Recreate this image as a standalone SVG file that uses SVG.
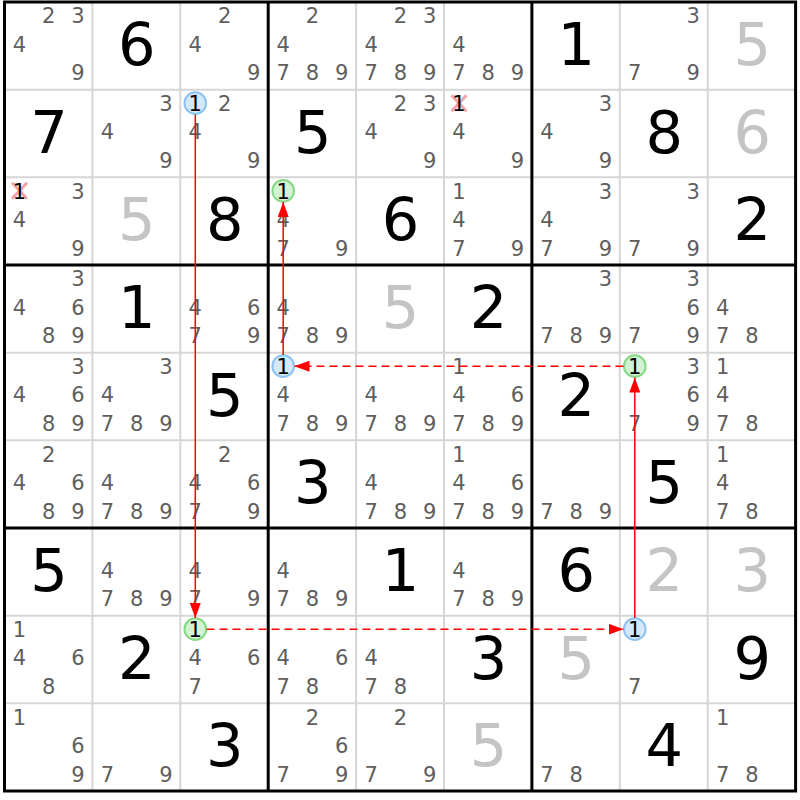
<svg xmlns="http://www.w3.org/2000/svg" width="800" height="800" viewBox="0 0 800 800">
<defs>
<style>
text{font-family:"DejaVu Sans","Liberation Sans",sans-serif;text-anchor:middle}
.c{font-size:21px;fill:#5e5e5e}
.k{font-size:21px;fill:#000}
.g{font-size:59px;fill:#000}
.s{font-size:59px;fill:#c4c4c4}
.thin{stroke:#d6d6d6;stroke-width:2}
.thick{stroke:#000;stroke-width:3}
.blue{fill:#d5e8fa;stroke:#8fc3f3;stroke-width:2}
.green{fill:#d3f2d3;stroke:#86d986;stroke-width:2}
.x{stroke:#f4a2a8;stroke-width:3}
.link{stroke:#ff0000;stroke-width:1.5;fill:none}
.dash{stroke-dasharray:8 5}
</style>
<marker id="ah" markerUnits="userSpaceOnUse" markerWidth="15" markerHeight="11" refX="15" refY="5.5" orient="auto">
<path d="M0,0 L15,5.5 L0,11 z" fill="#ff0000"/>
</marker>
</defs>
<rect x="0" y="0" width="800" height="800" fill="#fff"/>
<g id="grid">
<path class="thin" d="M92.4,2V791M180.3,2V791M356.1,2V791M444,2V791M619.8,2V791M707.7,2V791M4.5,89.67H795.6M4.5,177.33H795.6M4.5,352.67H795.6M4.5,440.33H795.6M4.5,615.67H795.6M4.5,703.33H795.6"/>
<path class="thick" d="M268.2,2V791M531.9,2V791M4.5,265H795.6M4.5,528H795.6"/>
<rect class="thick" x="4.5" y="2" width="791.1" height="789" fill="none"/>
</g>
<!-- Row 0 -->
<g id="r0c0" transform="translate(4.5,2)"><text class="c" x="44.3" y="21.2">2</text><text class="c" x="73.5" y="21.2">3</text><text class="c" x="15" y="49.7">4</text><text class="c" x="73.5" y="78.2">9</text></g>
<g id="r0c1" transform="translate(92.4,2)"><text class="g" x="44.5" y="63">6</text></g>
<g id="r0c2" transform="translate(180.3,2)"><text class="c" x="44.3" y="21.2">2</text><text class="c" x="15" y="49.7">4</text><text class="c" x="73.5" y="78.2">9</text></g>
<g id="r0c3" transform="translate(268.2,2)"><text class="c" x="44.3" y="21.2">2</text><text class="c" x="15" y="49.7">4</text><text class="c" x="15" y="78.2">7</text><text class="c" x="44.3" y="78.2">8</text><text class="c" x="73.5" y="78.2">9</text></g>
<g id="r0c4" transform="translate(356.1,2)"><text class="c" x="44.3" y="21.2">2</text><text class="c" x="73.5" y="21.2">3</text><text class="c" x="15" y="49.7">4</text><text class="c" x="15" y="78.2">7</text><text class="c" x="44.3" y="78.2">8</text><text class="c" x="73.5" y="78.2">9</text></g>
<g id="r0c5" transform="translate(444,2)"><text class="c" x="15" y="49.7">4</text><text class="c" x="15" y="78.2">7</text><text class="c" x="44.3" y="78.2">8</text><text class="c" x="73.5" y="78.2">9</text></g>
<g id="r0c6" transform="translate(531.9,2)"><text class="g" x="44.5" y="63">1</text></g>
<g id="r0c7" transform="translate(619.8,2)"><text class="c" x="73.5" y="21.2">3</text><text class="c" x="15" y="78.2">7</text><text class="c" x="73.5" y="78.2">9</text></g>
<g id="r0c8" transform="translate(707.7,2)"><text class="s" x="44.5" y="63">5</text></g>
<!-- Row 1 -->
<g id="r1c0" transform="translate(4.5,89.67)"><text class="g" x="44.5" y="63">7</text></g>
<g id="r1c1" transform="translate(92.4,89.67)"><text class="c" x="73.5" y="21.2">3</text><text class="c" x="15" y="49.7">4</text><text class="c" x="73.5" y="78.2">9</text></g>
<g id="r1c2" transform="translate(180.3,89.67)"><circle class="blue" cx="15" cy="13.5" r="10.8"/><text class="k" x="15" y="21.2">1</text><text class="c" x="44.3" y="21.2">2</text><text class="c" x="15" y="49.7">4</text><text class="c" x="73.5" y="78.2">9</text></g>
<g id="r1c3" transform="translate(268.2,89.67)"><text class="g" x="44.5" y="63">5</text></g>
<g id="r1c4" transform="translate(356.1,89.67)"><text class="c" x="44.3" y="21.2">2</text><text class="c" x="73.5" y="21.2">3</text><text class="c" x="15" y="49.7">4</text><text class="c" x="73.5" y="78.2">9</text></g>
<g id="r1c5" transform="translate(444,89.67)"><path class="x" d="M7.5,5.5L22.5,21.5M22.5,5.5L7.5,21.5"/><text class="k" x="15" y="21.2">1</text><text class="c" x="15" y="49.7">4</text><text class="c" x="73.5" y="78.2">9</text></g>
<g id="r1c6" transform="translate(531.9,89.67)"><text class="c" x="73.5" y="21.2">3</text><text class="c" x="15" y="49.7">4</text><text class="c" x="73.5" y="78.2">9</text></g>
<g id="r1c7" transform="translate(619.8,89.67)"><text class="g" x="44.5" y="63">8</text></g>
<g id="r1c8" transform="translate(707.7,89.67)"><text class="s" x="44.5" y="63">6</text></g>
<!-- Row 2 -->
<g id="r2c0" transform="translate(4.5,177.33)"><path class="x" d="M7.5,5.5L22.5,21.5M22.5,5.5L7.5,21.5"/><text class="k" x="15" y="21.2">1</text><text class="c" x="73.5" y="21.2">3</text><text class="c" x="15" y="49.7">4</text><text class="c" x="73.5" y="78.2">9</text></g>
<g id="r2c1" transform="translate(92.4,177.33)"><text class="s" x="44.5" y="63">5</text></g>
<g id="r2c2" transform="translate(180.3,177.33)"><text class="g" x="44.5" y="63">8</text></g>
<g id="r2c3" transform="translate(268.2,177.33)"><circle class="green" cx="15" cy="13.5" r="10.8"/><text class="k" x="15" y="21.2">1</text><text class="c" x="15" y="49.7">4</text><text class="c" x="15" y="78.2">7</text><text class="c" x="73.5" y="78.2">9</text></g>
<g id="r2c4" transform="translate(356.1,177.33)"><text class="g" x="44.5" y="63">6</text></g>
<g id="r2c5" transform="translate(444,177.33)"><text class="c" x="15" y="21.2">1</text><text class="c" x="15" y="49.7">4</text><text class="c" x="15" y="78.2">7</text><text class="c" x="73.5" y="78.2">9</text></g>
<g id="r2c6" transform="translate(531.9,177.33)"><text class="c" x="73.5" y="21.2">3</text><text class="c" x="15" y="49.7">4</text><text class="c" x="15" y="78.2">7</text><text class="c" x="73.5" y="78.2">9</text></g>
<g id="r2c7" transform="translate(619.8,177.33)"><text class="c" x="73.5" y="21.2">3</text><text class="c" x="15" y="78.2">7</text><text class="c" x="73.5" y="78.2">9</text></g>
<g id="r2c8" transform="translate(707.7,177.33)"><text class="g" x="44.5" y="63">2</text></g>
<!-- Row 3 -->
<g id="r3c0" transform="translate(4.5,265)"><text class="c" x="73.5" y="21.2">3</text><text class="c" x="15" y="49.7">4</text><text class="c" x="73.5" y="49.7">6</text><text class="c" x="44.3" y="78.2">8</text><text class="c" x="73.5" y="78.2">9</text></g>
<g id="r3c1" transform="translate(92.4,265)"><text class="g" x="44.5" y="63">1</text></g>
<g id="r3c2" transform="translate(180.3,265)"><text class="c" x="15" y="49.7">4</text><text class="c" x="73.5" y="49.7">6</text><text class="c" x="15" y="78.2">7</text><text class="c" x="73.5" y="78.2">9</text></g>
<g id="r3c3" transform="translate(268.2,265)"><text class="c" x="15" y="49.7">4</text><text class="c" x="15" y="78.2">7</text><text class="c" x="44.3" y="78.2">8</text><text class="c" x="73.5" y="78.2">9</text></g>
<g id="r3c4" transform="translate(356.1,265)"><text class="s" x="44.5" y="63">5</text></g>
<g id="r3c5" transform="translate(444,265)"><text class="g" x="44.5" y="63">2</text></g>
<g id="r3c6" transform="translate(531.9,265)"><text class="c" x="73.5" y="21.2">3</text><text class="c" x="15" y="78.2">7</text><text class="c" x="44.3" y="78.2">8</text><text class="c" x="73.5" y="78.2">9</text></g>
<g id="r3c7" transform="translate(619.8,265)"><text class="c" x="73.5" y="21.2">3</text><text class="c" x="73.5" y="49.7">6</text><text class="c" x="15" y="78.2">7</text><text class="c" x="73.5" y="78.2">9</text></g>
<g id="r3c8" transform="translate(707.7,265)"><text class="c" x="15" y="49.7">4</text><text class="c" x="15" y="78.2">7</text><text class="c" x="44.3" y="78.2">8</text></g>
<!-- Row 4 -->
<g id="r4c0" transform="translate(4.5,352.67)"><text class="c" x="73.5" y="21.2">3</text><text class="c" x="15" y="49.7">4</text><text class="c" x="73.5" y="49.7">6</text><text class="c" x="44.3" y="78.2">8</text><text class="c" x="73.5" y="78.2">9</text></g>
<g id="r4c1" transform="translate(92.4,352.67)"><text class="c" x="73.5" y="21.2">3</text><text class="c" x="15" y="49.7">4</text><text class="c" x="15" y="78.2">7</text><text class="c" x="44.3" y="78.2">8</text><text class="c" x="73.5" y="78.2">9</text></g>
<g id="r4c2" transform="translate(180.3,352.67)"><text class="g" x="44.5" y="63">5</text></g>
<g id="r4c3" transform="translate(268.2,352.67)"><circle class="blue" cx="15" cy="13.5" r="10.8"/><text class="k" x="15" y="21.2">1</text><text class="c" x="15" y="49.7">4</text><text class="c" x="15" y="78.2">7</text><text class="c" x="44.3" y="78.2">8</text><text class="c" x="73.5" y="78.2">9</text></g>
<g id="r4c4" transform="translate(356.1,352.67)"><text class="c" x="15" y="49.7">4</text><text class="c" x="15" y="78.2">7</text><text class="c" x="44.3" y="78.2">8</text><text class="c" x="73.5" y="78.2">9</text></g>
<g id="r4c5" transform="translate(444,352.67)"><text class="c" x="15" y="21.2">1</text><text class="c" x="15" y="49.7">4</text><text class="c" x="73.5" y="49.7">6</text><text class="c" x="15" y="78.2">7</text><text class="c" x="44.3" y="78.2">8</text><text class="c" x="73.5" y="78.2">9</text></g>
<g id="r4c6" transform="translate(531.9,352.67)"><text class="g" x="44.5" y="63">2</text></g>
<g id="r4c7" transform="translate(619.8,352.67)"><circle class="green" cx="15" cy="13.5" r="10.8"/><text class="k" x="15" y="21.2">1</text><text class="c" x="73.5" y="21.2">3</text><text class="c" x="73.5" y="49.7">6</text><text class="c" x="15" y="78.2">7</text><text class="c" x="73.5" y="78.2">9</text></g>
<g id="r4c8" transform="translate(707.7,352.67)"><text class="c" x="15" y="21.2">1</text><text class="c" x="15" y="49.7">4</text><text class="c" x="15" y="78.2">7</text><text class="c" x="44.3" y="78.2">8</text></g>
<!-- Row 5 -->
<g id="r5c0" transform="translate(4.5,440.33)"><text class="c" x="44.3" y="21.2">2</text><text class="c" x="15" y="49.7">4</text><text class="c" x="73.5" y="49.7">6</text><text class="c" x="44.3" y="78.2">8</text><text class="c" x="73.5" y="78.2">9</text></g>
<g id="r5c1" transform="translate(92.4,440.33)"><text class="c" x="15" y="49.7">4</text><text class="c" x="15" y="78.2">7</text><text class="c" x="44.3" y="78.2">8</text><text class="c" x="73.5" y="78.2">9</text></g>
<g id="r5c2" transform="translate(180.3,440.33)"><text class="c" x="44.3" y="21.2">2</text><text class="c" x="15" y="49.7">4</text><text class="c" x="73.5" y="49.7">6</text><text class="c" x="15" y="78.2">7</text><text class="c" x="73.5" y="78.2">9</text></g>
<g id="r5c3" transform="translate(268.2,440.33)"><text class="g" x="44.5" y="63">3</text></g>
<g id="r5c4" transform="translate(356.1,440.33)"><text class="c" x="15" y="49.7">4</text><text class="c" x="15" y="78.2">7</text><text class="c" x="44.3" y="78.2">8</text><text class="c" x="73.5" y="78.2">9</text></g>
<g id="r5c5" transform="translate(444,440.33)"><text class="c" x="15" y="21.2">1</text><text class="c" x="15" y="49.7">4</text><text class="c" x="73.5" y="49.7">6</text><text class="c" x="15" y="78.2">7</text><text class="c" x="44.3" y="78.2">8</text><text class="c" x="73.5" y="78.2">9</text></g>
<g id="r5c6" transform="translate(531.9,440.33)"><text class="c" x="15" y="78.2">7</text><text class="c" x="44.3" y="78.2">8</text><text class="c" x="73.5" y="78.2">9</text></g>
<g id="r5c7" transform="translate(619.8,440.33)"><text class="g" x="44.5" y="63">5</text></g>
<g id="r5c8" transform="translate(707.7,440.33)"><text class="c" x="15" y="21.2">1</text><text class="c" x="15" y="49.7">4</text><text class="c" x="15" y="78.2">7</text><text class="c" x="44.3" y="78.2">8</text></g>
<!-- Row 6 -->
<g id="r6c0" transform="translate(4.5,528)"><text class="g" x="44.5" y="63">5</text></g>
<g id="r6c1" transform="translate(92.4,528)"><text class="c" x="15" y="49.7">4</text><text class="c" x="15" y="78.2">7</text><text class="c" x="44.3" y="78.2">8</text><text class="c" x="73.5" y="78.2">9</text></g>
<g id="r6c2" transform="translate(180.3,528)"><text class="c" x="15" y="49.7">4</text><text class="c" x="15" y="78.2">7</text><text class="c" x="73.5" y="78.2">9</text></g>
<g id="r6c3" transform="translate(268.2,528)"><text class="c" x="15" y="49.7">4</text><text class="c" x="15" y="78.2">7</text><text class="c" x="44.3" y="78.2">8</text><text class="c" x="73.5" y="78.2">9</text></g>
<g id="r6c4" transform="translate(356.1,528)"><text class="g" x="44.5" y="63">1</text></g>
<g id="r6c5" transform="translate(444,528)"><text class="c" x="15" y="49.7">4</text><text class="c" x="15" y="78.2">7</text><text class="c" x="44.3" y="78.2">8</text><text class="c" x="73.5" y="78.2">9</text></g>
<g id="r6c6" transform="translate(531.9,528)"><text class="g" x="44.5" y="63">6</text></g>
<g id="r6c7" transform="translate(619.8,528)"><text class="s" x="44.5" y="63">2</text></g>
<g id="r6c8" transform="translate(707.7,528)"><text class="s" x="44.5" y="63">3</text></g>
<!-- Row 7 -->
<g id="r7c0" transform="translate(4.5,615.67)"><text class="c" x="15" y="21.2">1</text><text class="c" x="15" y="49.7">4</text><text class="c" x="73.5" y="49.7">6</text><text class="c" x="44.3" y="78.2">8</text></g>
<g id="r7c1" transform="translate(92.4,615.67)"><text class="g" x="44.5" y="63">2</text></g>
<g id="r7c2" transform="translate(180.3,615.67)"><circle class="green" cx="15" cy="13.5" r="10.8"/><text class="k" x="15" y="21.2">1</text><text class="c" x="15" y="49.7">4</text><text class="c" x="73.5" y="49.7">6</text><text class="c" x="15" y="78.2">7</text></g>
<g id="r7c3" transform="translate(268.2,615.67)"><text class="c" x="15" y="49.7">4</text><text class="c" x="73.5" y="49.7">6</text><text class="c" x="15" y="78.2">7</text><text class="c" x="44.3" y="78.2">8</text></g>
<g id="r7c4" transform="translate(356.1,615.67)"><text class="c" x="15" y="49.7">4</text><text class="c" x="15" y="78.2">7</text><text class="c" x="44.3" y="78.2">8</text></g>
<g id="r7c5" transform="translate(444,615.67)"><text class="g" x="44.5" y="63">3</text></g>
<g id="r7c6" transform="translate(531.9,615.67)"><text class="s" x="44.5" y="63">5</text></g>
<g id="r7c7" transform="translate(619.8,615.67)"><circle class="blue" cx="15" cy="13.5" r="10.8"/><text class="k" x="15" y="21.2">1</text><text class="c" x="15" y="78.2">7</text></g>
<g id="r7c8" transform="translate(707.7,615.67)"><text class="g" x="44.5" y="63">9</text></g>
<!-- Row 8 -->
<g id="r8c0" transform="translate(4.5,703.33)"><text class="c" x="15" y="21.2">1</text><text class="c" x="73.5" y="49.7">6</text><text class="c" x="73.5" y="78.2">9</text></g>
<g id="r8c1" transform="translate(92.4,703.33)"><text class="c" x="15" y="78.2">7</text><text class="c" x="73.5" y="78.2">9</text></g>
<g id="r8c2" transform="translate(180.3,703.33)"><text class="g" x="44.5" y="63">3</text></g>
<g id="r8c3" transform="translate(268.2,703.33)"><text class="c" x="44.3" y="21.2">2</text><text class="c" x="73.5" y="49.7">6</text><text class="c" x="15" y="78.2">7</text><text class="c" x="73.5" y="78.2">9</text></g>
<g id="r8c4" transform="translate(356.1,703.33)"><text class="c" x="44.3" y="21.2">2</text><text class="c" x="15" y="78.2">7</text><text class="c" x="73.5" y="78.2">9</text></g>
<g id="r8c5" transform="translate(444,703.33)"><text class="s" x="44.5" y="63">5</text></g>
<g id="r8c6" transform="translate(531.9,703.33)"><text class="c" x="15" y="78.2">7</text><text class="c" x="44.3" y="78.2">8</text></g>
<g id="r8c7" transform="translate(619.8,703.33)"><text class="g" x="44.5" y="63">4</text></g>
<g id="r8c8" transform="translate(707.7,703.33)"><text class="c" x="15" y="21.2">1</text><text class="c" x="15" y="78.2">7</text><text class="c" x="44.3" y="78.2">8</text></g>
<g id="connectors">
<line class="link" x1="195.3" y1="114.5" x2="195.3" y2="618" marker-end="url(#ah)"/>
<line class="link dash" x1="206.5" y1="629.2" x2="623.5" y2="629.2" marker-end="url(#ah)"/>
<line class="link" x1="634.8" y1="618" x2="634.8" y2="377.5" marker-end="url(#ah)"/>
<line class="link dash" x1="623.5" y1="366.2" x2="294.5" y2="366.2" marker-end="url(#ah)"/>
<line class="link" x1="283.2" y1="355" x2="283.2" y2="202" marker-end="url(#ah)"/>
</g>
</svg>
